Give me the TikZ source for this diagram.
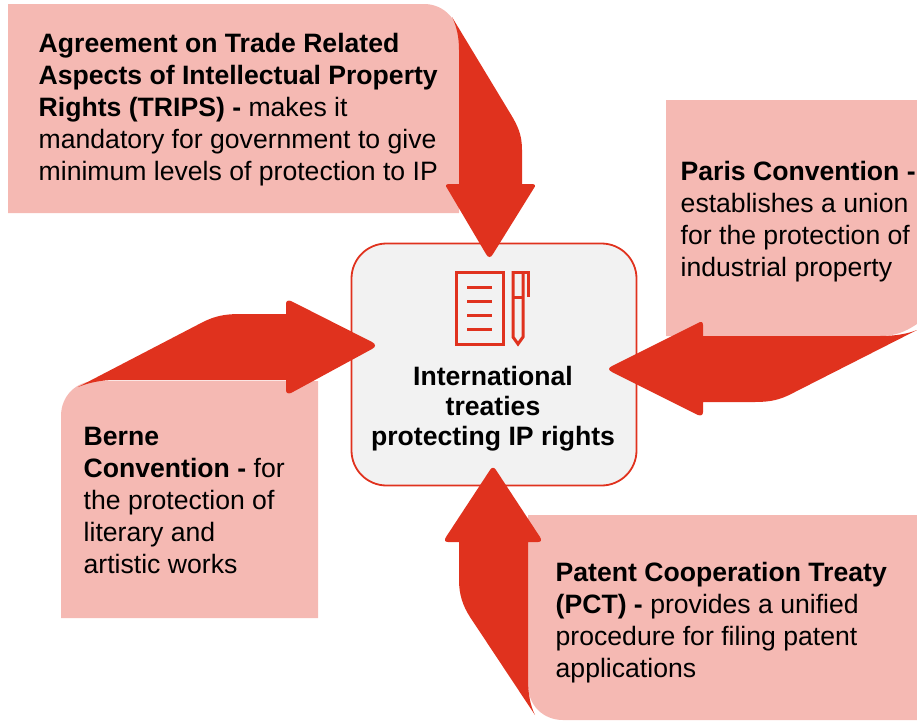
\documentclass[tikz,border=0pt]{standalone}
\usepackage{fontspec}
\setmainfont{Liberation Sans}
\definecolor{boxpink}{HTML}{F5B9B3}
\definecolor{arrowred}{HTML}{E0321E}
\definecolor{panelgrey}{HTML}{F2F2F2}
\tikzset{
  pinkbox/.style={fill=boxpink,draw=none},
  blockarrow/.style={fill=arrowred,draw=none},
  iconline/.style={draw=arrowred,line width=3pt,line cap=butt,fill=none},
  label/.style={inner sep=0pt,align=left,anchor=north west,font=\fontsize{26.6}{32}\selectfont},
  centrelabel/.style={inner sep=0pt,align=center,anchor=center,font=\fontsize{26.6}{30}\selectfont\bfseries},
}
\begin{document}
\begin{tikzpicture}[x=1pt,y=-1pt]
\useasboundingbox (0,0) rectangle (917,720);
% boxes
\fill[pinkbox] (8,4) -- (424,4) .. controls (444,4) and (459,20) .. (459,40) -- (459,213) -- (8,213) -- cycle;
\fill[pinkbox] (666,100) -- (917,100) -- (917,324) .. controls (905,332) and (895,336) .. (880,336) -- (666,336) -- cycle;
\fill[pinkbox] (96,381) -- (318,381) -- (318,618) -- (61,618) -- (61,416) .. controls (61,396) and (76,381) .. (96,381) -- cycle;
\fill[pinkbox] (528,515) -- (917,515) -- (917,720) -- (563,720) .. controls (543,720) and (528,705) .. (528,685) -- cycle;
% centre
\node[draw=arrowred,line width=1.8pt,fill=panelgrey,rounded corners=35pt,minimum width=285pt,minimum height=242pt,inner sep=0pt] (centre) at (494,364.5) {};
% arrows
\fill[blockarrow] (452,17) -- (510,113) .. controls (518,126) and (522,135) .. (522,150) -- (522,184)
  -- (532,184) .. controls (535,184) and (536,186) .. (534,188) -- (493,254) .. controls (491,258) and (488,258) .. (486,254) -- (447,188) .. controls (445,186) and (446,184) .. (449,184) -- (459,184) -- (459,50) .. controls (459,38) and (457,27) .. (452,17) -- cycle;
\fill[blockarrow] (917,330) -- (793,393) .. controls (780,400) and (770,402) .. (755,402) -- (703,402)
  -- (703,412) .. controls (703,415) and (701,416) .. (698,415) -- (612,372) .. controls (608,370) and (608,368) .. (612,366) -- (698,323) .. controls (701,321) and (703,322) .. (703,325) -- (703,336) -- (880,336) .. controls (895,336) and (907,334) .. (917,330) -- cycle;
\fill[blockarrow] (78,387) -- (203,322) .. controls (215,316) and (225,314) .. (240,314) -- (286,314)
  -- (286,304) .. controls (286,301) and (288,300) .. (291,301) -- (372,342) .. controls (376,344) and (376,347) .. (372,349) -- (291,393) .. controls (288,394) and (286,393) .. (286,390) -- (286,380) -- (115,380) .. controls (100,380) and (88,383) .. (78,387) -- cycle;
\fill[blockarrow] (535,715) -- (470,617) .. controls (463,606) and (459,595) .. (459,580) -- (459,542)
  -- (448,542) .. controls (445,542) and (444,540) .. (446,537) -- (490,470) .. controls (492,467) and (494,467) .. (496,470) -- (540,537) .. controls (542,540) and (541,542) .. (538,542) -- (528,542) -- (528,680) .. controls (528,692) and (530,705) .. (535,715) -- cycle;
% icon
\draw[iconline] (456,272) rectangle (503.5,344.5);
\foreach \yy in {287,301,315,329}{\draw[iconline] (467,\yy) -- (492,\yy);}
\draw[iconline] (513,271) -- (513,337) -- (518,344) -- (523,337) -- (523,271);
\draw[iconline] (511.5,272) -- (529.5,272);
\draw[iconline] (528,271) -- (528,297);
\draw[iconline] (513,297) -- (523,297);
% labels
\node[centrelabel] (centrelabel) at (493,409) {International\\treaties\\protecting IP rights};
\node[label] (tripslabel) at (38.5,33) {\textbf{Agreement on Trade Related}\\\textbf{Aspects of Intellectual Property}\\\textbf{Rights (TRIPS) -} makes it\\mandatory for government to give\\minimum levels of protection to IP};
\node[label] (parislabel) at (680.5,161) {\textbf{Paris Convention -}\\establishes a union\\for the protection of\\industrial property};
\node[label] (bernelabel) at (83.5,427) {\textbf{Berne}\\\textbf{Convention -} for\\the protection of\\literary and\\artistic works};
\node[label] (pctlabel) at (555.5,562) {\textbf{Patent Cooperation Treaty}\\\textbf{(PCT) -} provides a unified\\procedure for filing patent\\applications};
\end{tikzpicture}
\end{document}
